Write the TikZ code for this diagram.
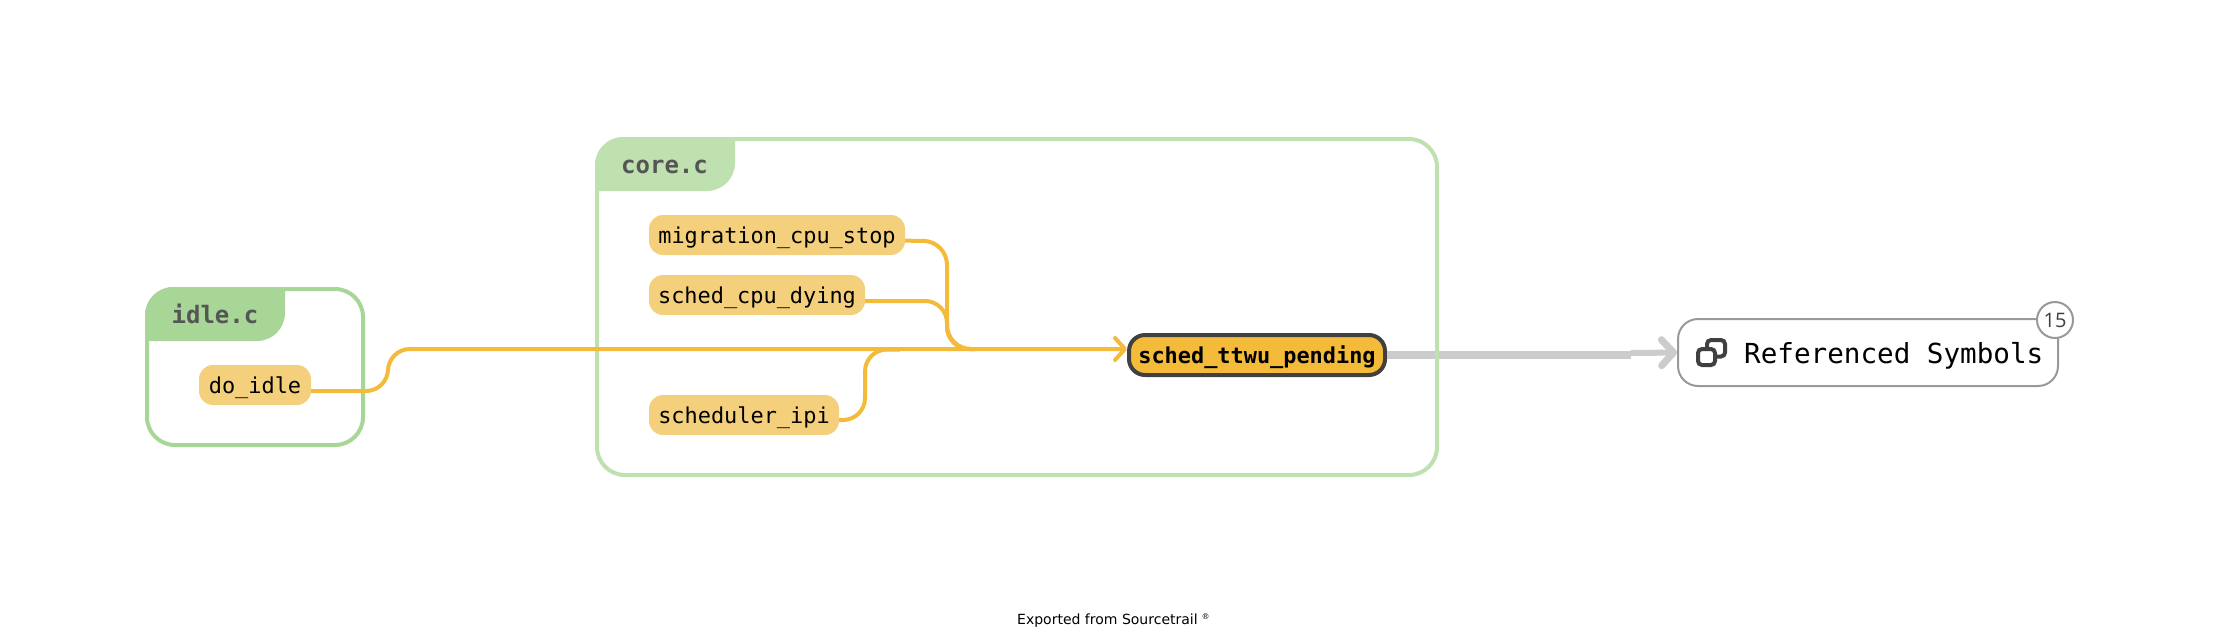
\documentclass[tikz,border=0pt]{standalone}
\usepackage{fontspec}
\usetikzlibrary{arrows.meta}
\newfontfamily\codefont{DejaVu Sans Mono}
\newfontfamily\footfont{DejaVu Sans}
\newfontfamily\badgefont{Open Sans}
\definecolor{idlegreen}{HTML}{A8D696}
\definecolor{coregreen}{HTML}{BFE1B0}
\definecolor{fnfill}{HTML}{F4D07C}
\definecolor{edgeor}{HTML}{F4BB3A}
\definecolor{darkline}{HTML}{404040}
\definecolor{headtext}{HTML}{555555}
\definecolor{grayedge}{HTML}{CCCCCC}
\definecolor{refline}{HTML}{999999}
\tikzset{
  fn/.style={fill=fnfill,rounded corners=14pt,inner sep=0pt,minimum height=40pt,
    text height=16pt,text depth=0pt,font=\codefont\fontsize{21.9pt}{22pt}\selectfont,text=black},
  group/.style={rounded corners=28pt,line width=4pt,inner sep=0pt,fill=none},
  head/.style={anchor=base,inner sep=0pt,text=headtext,font=\codefont\bfseries\fontsize{24pt}{24pt}\selectfont},
  edge/.style={draw=edgeor,line width=4pt,rounded corners=22pt},
  arrowedge/.style={edge,-{Straight Barb[length=10pt,width=22pt,round,line width=4pt]}},
}
\begin{document}
\begin{tikzpicture}[x=1pt,y=-1pt]
\fill[white] (0,0) rectangle (2214,638);
\useasboundingbox (0,0) rectangle (2214,638);
% target and reference bundle
\node[fill=edgeor,draw=darkline,line width=4pt,rounded corners=16pt,inner sep=0pt,
  minimum width=256pt,minimum height=40pt,text height=16pt,text depth=0pt,
  font=\codefont\bfseries\fontsize{21.9pt}{22pt}\selectfont] (target) at (1257,355) {sched\_ttwu\_pending};
\node[draw=refline,line width=2pt,rounded corners=20pt,inner sep=0pt,minimum width=380pt,minimum height=67pt] (refbox) at (1868,352.5) {};
\node[anchor=base west,inner sep=0pt,font=\codefont\fontsize{27.6pt}{28pt}\selectfont] (reflabel) at (1744,363) {Referenced Symbols};
\node[circle,draw=refline,fill=white,line width=2pt,minimum size=36pt,inner sep=0pt,text=darkline,
  font=\badgefont\fontsize{20pt}{20pt}\selectfont] (badge) at (2055,320) {15};
% icon
\draw[darkline,line width=4pt,rounded corners=4pt] (1707,340) rectangle (1725,356.5);
\draw[darkline,fill=white,line width=4pt,rounded corners=4pt] (1698,349) rectangle (1715,365);
% gray edge
\coordinate (gbend) at (1631,355);
\coordinate (gbendb) at (1631,353);
\draw[grayedge,line width=8pt] (target.east) -- (gbend);
\draw[grayedge,line width=6pt,-{Straight Barb[length=12pt,width=26pt,round,line width=7pt]}] (gbendb) -- (refbox.west);
% groups
\node[group,draw=idlegreen,minimum width=216pt,minimum height=156pt] (idle) at (255,367) {};
\node[group,draw=coregreen,minimum width=840pt,minimum height=336pt] (core) at (1017,307) {};
\fill[idlegreen] [rounded corners=28pt] (145,341) -- (145,287) [sharp corners] -- (285,287) [rounded corners=28pt] -- (285,341) [sharp corners] -- cycle;
\fill[coregreen] [rounded corners=28pt] (595,191) -- (595,137) [sharp corners] -- (735,137) [rounded corners=28pt] -- (735,191) [sharp corners] -- cycle;
\node[head] (idlehead) at (215,323) {idle.c};
\node[head] (corehead) at (664.5,173) {core.c};
% functions
\node[fn,minimum width=112pt] (doidle) at (255,385) {do\_idle};
\node[fn,minimum width=256pt] (migr) at (777,235) {migration\_cpu\_stop};
\node[fn,minimum width=216pt] (dying) at (757,295) {sched\_cpu\_dying};
\node[fn,minimum width=190pt] (ipi) at (744,415) {scheduler\_ipi};
% orange edges
\coordinate (bd) at (388,391);
\coordinate (bdt) at (388,349);
\coordinate (bm) at (947,241);
\coordinate (bmb) at (947,349);
\coordinate (js) at (975,349);
\coordinate (by) at (947,301);
\coordinate (bi) at (865,420);
\coordinate (bit) at (865,349.5);
\coordinate (ji) at (900,349.5);
\draw[edge] ([yshift=-5pt]ipi.east) -- (bi) -- (bit) -- (ji);
\draw[edge] ([yshift=-6pt]dying.east) -- (by) -- (bmb) -- (js);
\draw[edge,rounded corners=24pt] ([yshift=-5.7pt]migr.east) -- (bm) -- (bmb) -- (js);
\draw[arrowedge] ([yshift=-6pt]doidle.east) -- (bd) -- (bdt) -- ([yshift=6pt]target.west);
% footer
\node[anchor=base west,inner sep=0pt,font=\footfont\fontsize{14pt}{14pt}\selectfont] (footer) at (1017,624) {Exported from Sourcetrail\kern 4pt\raisebox{5pt}{\fontsize{8pt}{8pt}\selectfont ®}};
\end{tikzpicture}
\end{document}
